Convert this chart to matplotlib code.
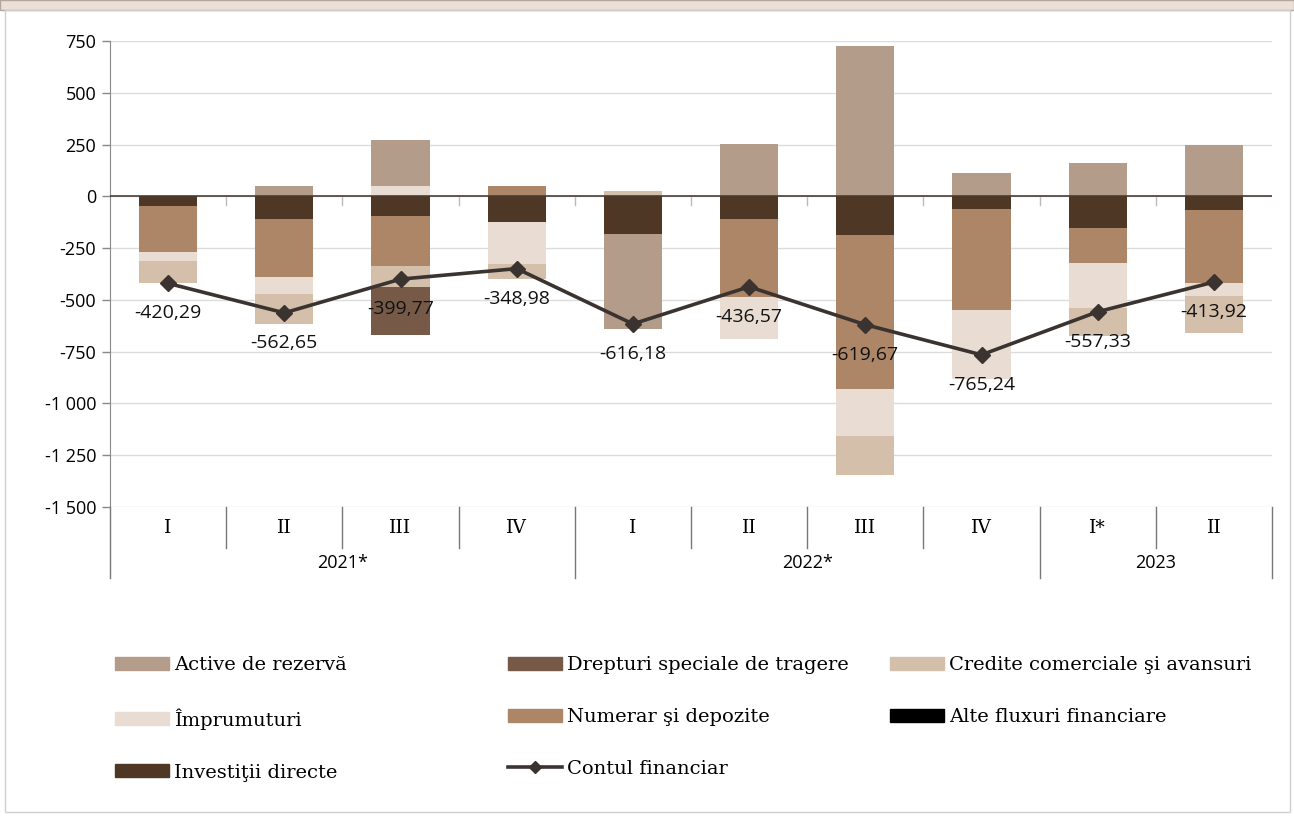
import matplotlib
matplotlib.use('Agg')
import matplotlib.pyplot as plt
import matplotlib.patches as mpatches
import matplotlib.transforms as mtransforms
from matplotlib.lines import Line2D
import numpy as np

# categories
quarters = ['I', 'II', 'III', 'IV', 'I', 'II', 'III', 'IV', 'I*', 'II']
years = ['2021*', '2022*', '2023']
year_span = [4, 4, 2]

# series (mil. USD)
active_rezerva = [0, 50, 220, 0, -460, 255, 725, 115, 160, 250]
drepturi_speciale = [0, 0, -230, 0, 0, 0, 0, 0, 0, 0]
credite_comerciale = [-110, -145, -105, -75, 25, 0, -192, 0, -135, -180]
imprumuturi = [-40, -80, 50, -200, 0, -205, -223, -330, -215, -60]
numerar_depozite = [-225, -280, -240, 50, 0, -375, -745, -490, -168, -355]
alte_fluxuri = [0, 0, 0, 0, 0, 0, 0, 0, 0, 0]
investitii_directe = [-45, -110, -95, -125, -180, -110, -187, -60, -155, -65]
contul_financiar = [-420.29, -562.65, -399.77, -348.98, -616.18,
                    -436.57, -619.67, -765.24, -557.33, -413.92]

series = {
    'Active de rezervă': (active_rezerva, '#b39c89'),
    'Drepturi speciale de tragere': (drepturi_speciale, '#765a47'),
    'Credite comerciale şi avansuri': (credite_comerciale, '#d3bfaa'),
    'Împrumuturi': (imprumuturi, '#e9ddd3'),
    'Numerar şi depozite': (numerar_depozite, '#ad8567'),
    'Alte fluxuri financiare': (alte_fluxuri, '#000000'),
    'Investiţii directe': (investitii_directe, '#4f3725'),
}
# stacking goes outward from zero in reverse legend order
stack_order = list(series.keys())[::-1]

SANS = 'Open Sans'
SERIF = 'DejaVu Serif'

fig = plt.figure(figsize=(12.94, 8.16), dpi=100)
ax = fig.add_axes([110 / 1294, 1 - 507 / 816, (1272 - 110) / 1294, (507 - 41) / 816])

x = np.arange(len(quarters))
pos = np.zeros(len(x))
neg = np.zeros(len(x))
for name in stack_order:
    vals = np.array(series[name][0], dtype=float)
    col = series[name][1]
    p = np.where(vals > 0, vals, 0)
    n = np.where(vals < 0, vals, 0)
    ax.bar(x, p, 0.5, bottom=pos, color=col, linewidth=0, zorder=2)
    ax.bar(x, n, 0.5, bottom=neg, color=col, linewidth=0, zorder=2)
    pos += p
    neg += n

line_col = '#3b3330'
ax.plot(x, contul_financiar, color=line_col, lw=2.6, marker='D', ms=8, zorder=4)
for xi, v in zip(x, contul_financiar):
    ax.annotate(('%.2f' % v).replace('.', ','), (xi, v), xytext=(0, -30),
                textcoords='offset pixels', ha='center', va='center',
                fontsize=14, family=SANS, color='#111111', zorder=5)

ax.set_xlim(-0.5, len(x) - 0.5)
ax.set_ylim(-1500, 750)
yt = np.arange(-1500, 751, 250)
ax.set_yticks(yt)
ax.set_yticklabels(['{:,}'.format(int(t)).replace(',', ' ') for t in yt],
                   fontsize=13, family=SANS)
ax.tick_params(axis='y', length=6, width=1, color='#888888', pad=4)
ax.set_xticks([])
ax.grid(axis='y', color='#dcdcdc', lw=1, zorder=0)
ax.axhline(0, color='#4a3c34', lw=1.2, zorder=3)
for s in ['top', 'right', 'bottom']:
    ax.spines[s].set_visible(False)
ax.spines['left'].set_color('#888888')

# small marks on the zero line between categories
for b in np.arange(0.5, len(x) - 0.5, 1):
    ax.plot([b, b], [0, -40], color='#bbbbbb', lw=1, zorder=1)

# category axis below the plot
tr = mtransforms.blended_transform_factory(ax.transData, ax.transAxes)
for xi, q in zip(x, quarters):
    ax.text(xi, -0.045, q, transform=tr, ha='center', va='center',
            fontsize=13.5, family=SERIF)
start = 0
bounds = [-0.5]
for yr, n in zip(years, year_span):
    ax.text(start + n / 2 - 0.5, -0.12, yr, transform=tr, ha='center',
            va='center', fontsize=13, family=SANS)
    start += n
    bounds.append(start - 0.5)
for b in np.arange(0.5, len(x) - 0.5, 1):
    if b not in bounds:
        ax.plot([b, b], [0, -0.088], transform=tr, color='#777777', lw=1,
                clip_on=False)
for b in bounds:
    ax.plot([b, b], [0, -0.152], transform=tr, color='#777777', lw=1,
            clip_on=False)

# legend in three columns
def patch(name):
    return mpatches.Patch(color=series[name][1], label=name)

line_handle = Line2D([], [], color=line_col, lw=2.6, marker='D', ms=6,
                     label='Contul financiar')
columns = [
    [patch('Active de rezervă'), patch('Împrumuturi'), patch('Investiţii directe')],
    [patch('Drepturi speciale de tragere'), patch('Numerar şi depozite'), line_handle],
    [patch('Credite comerciale şi avansuri'), patch('Alte fluxuri financiare')],
]
col_x = [115, 508, 890]
for hs, cx in zip(columns, col_x):
    fig.legend(handles=hs, loc='upper left', bbox_to_anchor=(cx / 1294, 1 - 656 / 816),
               frameon=False, borderpad=0, borderaxespad=0, handlelength=2.8,
               handleheight=0.65, handletextpad=0.25, labelspacing=1.75,
               prop={'family': SERIF, 'size': 14})

# header band and outer frame
fig.patches.append(mpatches.Rectangle((0, 1 - 10 / 816), 1, 10 / 816,
                                      transform=fig.transFigure,
                                      facecolor='#ecdfd5', edgecolor='#b0a8a0',
                                      lw=1, zorder=0))
fig.patches.append(mpatches.Rectangle((5 / 1294, 4 / 816), 1285 / 1294, 802 / 816,
                                      transform=fig.transFigure, fill=False,
                                      edgecolor='#cfcfcf', lw=1, zorder=0))

fig.savefig('out.png', dpi=100)
